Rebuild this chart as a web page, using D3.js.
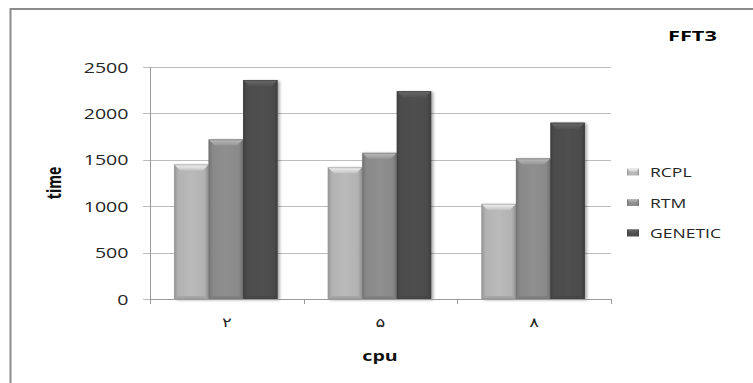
<!DOCTYPE html>
<html>
<head>
<meta charset="utf-8">
<script src="https://cdn.jsdelivr.net/npm/d3@7"></script>
<style>
html,body{margin:0;padding:0;background:#fff;}
svg{display:block;}
text{font-family:"Open Sans","DejaVu Sans",sans-serif;}
</style>
</head>
<body>
<svg id="chart" width="753" height="383"></svg>
<script>
const categories = ["۲", "۵", "۸"];
const seriesNames = ["RCPL", "RTM", "GENETIC"];
const rcpl = [1450, 1420, 1025];
const rtm = [1720, 1575, 1515];
const genetic = [2360, 2240, 1900];
const yTicks = [0, 500, 1000, 1500, 2000, 2500];
const title = "FFT3";
const xTitle = "cpu";
const yTitle = "time";

const seriesValues = [rcpl, rtm, genetic];
const colors = {RCPL: "#b2b2b2", RTM: "#898989", GENETIC: "#4c4c4c"};
const S = 1.4; // horizontal stretch of the reference text

const svg = d3.select("#chart");
const W = 753, H = 383;
const plot = {left: 150, right: 611, top: 67, bottom: 299};

// border
svg.append("rect").attr("x", 10.5).attr("y", 9).attr("width", W + 20).attr("height", H + 20)
  .attr("fill", "#fff").attr("stroke", "#8c8c8c").attr("stroke-width", 2);

const x0 = d3.scaleBand().domain(categories).range([plot.left, plot.right]).paddingInner(0).paddingOuter(0);
const x1 = d3.scaleBand().domain(seriesNames).range([x0.bandwidth() * 0.157, x0.bandwidth() * 0.83]);
const y = d3.scaleLinear().domain([0, 2500]).range([plot.bottom, plot.top]);

// gradients
const defs = svg.append("defs");
seriesNames.forEach(s => {
  const c = d3.color(colors[s]);
  const g = defs.append("linearGradient").attr("id", "g_" + s).attr("x1", "0").attr("x2", "1").attr("y1", "0").attr("y2", "0");
  g.append("stop").attr("offset", "0").attr("stop-color", c.darker(0.5));
  g.append("stop").attr("offset", "0.12").attr("stop-color", c);
  g.append("stop").attr("offset", "0.5").attr("stop-color", c.brighter(0.12));
  g.append("stop").attr("offset", "0.88").attr("stop-color", c);
  g.append("stop").attr("offset", "1").attr("stop-color", c.darker(0.6));
  const t = defs.append("linearGradient").attr("id", "t_" + s).attr("x1", "0").attr("x2", "0").attr("y1", "0").attr("y2", "1");
  t.append("stop").attr("offset", "0").attr("stop-color", c.brighter(0.9));
  t.append("stop").attr("offset", "1").attr("stop-color", c.brighter(0.25));
});
const sh = defs.append("filter").attr("id", "shadow").attr("x", "-20%").attr("y", "-5%").attr("width", "150%").attr("height", "115%");
sh.append("feGaussianBlur").attr("in", "SourceAlpha").attr("stdDeviation", 1.5).attr("result", "b");
sh.append("feOffset").attr("in", "b").attr("dx", 2).attr("dy", 1).attr("result", "o");
sh.append("feComponentTransfer").attr("in", "o").attr("result", "o2").append("feFuncA").attr("type", "linear").attr("slope", 0.35);
const mg = sh.append("feMerge"); mg.append("feMergeNode").attr("in", "o2"); mg.append("feMergeNode").attr("in", "SourceGraphic");

// gridlines + y labels
const yAxis = svg.append("g").attr("transform", `translate(${plot.left - 7},0)`)
  .call(d3.axisLeft(y).tickValues(yTicks).tickFormat(d3.format("d"))
    .tickSize(-(plot.right - plot.left + 7)).tickPadding(14.5));
yAxis.select(".domain").remove();
yAxis.selectAll(".tick line").attr("stroke", "#bdbdbd").attr("shape-rendering", "crispEdges");
yAxis.selectAll(".tick text").attr("x", -14.5 / S).attr("transform", `scale(${S},1)`)
  .attr("font-size", 14).attr("fill", "#262626").attr("dy", "0.36em");

// bars
const data = [];
categories.forEach((c, i) => seriesNames.forEach((s, j) => data.push({c, s, v: seriesValues[j][i]})));
const bars = svg.append("g").selectAll("g").data(data).join("g")
  .attr("transform", d => `translate(${x0(d.c) + x1(d.s)},0)`).attr("filter", "url(#shadow)");
const bw = x1.bandwidth();
bars.append("rect").attr("x", 0).attr("y", d => y(d.v)).attr("width", bw).attr("height", d => y(0) - y(d.v))
  .attr("fill", d => `url(#g_${d.s})`);
bars.append("path").attr("d", d => {
  const t = y(d.v);
  return `M0,${t}L${bw},${t}L${bw - 6},${t + 6}L6,${t + 6}Z`;
}).attr("fill", d => `url(#t_${d.s})`);
bars.append("path").attr("d", d => {
  const b = y(0);
  return `M0,${b}L${bw},${b}L${bw - 3},${b - 3}L3,${b - 3}Z`;
}).attr("fill", d => d3.color(colors[d.s]).darker(0.2));
bars.append("rect").attr("x", 0.5).attr("y", d => y(d.v) + 0.5).attr("width", bw - 1).attr("height", d => y(0) - y(d.v) - 1)
  .attr("fill", "none").attr("stroke", d => d3.color(colors[d.s]).darker(0.5)).attr("stroke-width", 1).attr("opacity", 0.6);

// axis lines
svg.append("line").attr("x1", plot.left + 0.5).attr("x2", plot.left + 0.5).attr("y1", plot.top).attr("y2", plot.bottom)
  .attr("stroke", "#9a9a9a");
svg.append("line").attr("x1", plot.left).attr("x2", plot.right).attr("y1", plot.bottom + 0.5).attr("y2", plot.bottom + 0.5)
  .attr("stroke", "#9a9a9a");
const bounds = categories.map(c => x0(c)).concat([x0.range()[1]]);
svg.append("g").selectAll("line").data(bounds).join("line")
  .attr("x1", d => Math.round(d) + 0.5).attr("x2", d => Math.round(d) + 0.5)
  .attr("y1", plot.bottom).attr("y2", plot.bottom + 5).attr("stroke", "#9a9a9a");

// x labels
const xAxis = svg.append("g").attr("transform", `translate(0,${plot.bottom})`)
  .call(d3.axisBottom(x0).tickSize(0).tickPadding(19));
xAxis.select(".domain").remove();
xAxis.selectAll(".tick text").attr("font-family", "DejaVu Sans, sans-serif").attr("font-size", 13)
  .attr("fill", "#222").attr("transform", `scale(${S},1)`);

// titles
svg.append("text").attr("transform", `translate(668,41) scale(1.45,1)`).attr("font-size", 15)
  .attr("font-weight", "bold").attr("fill", "#000").text(title);
svg.append("text").attr("transform", `translate(380,361) scale(${S},1)`).attr("text-anchor", "middle")
  .attr("font-size", 14).attr("font-weight", "bold").attr("fill", "#111").text(xTitle);
svg.append("text").attr("transform", `translate(60.5,183) scale(${S},1) rotate(-90)`).attr("text-anchor", "middle")
  .attr("font-size", 14).attr("font-weight", "bold").attr("fill", "#111").text(yTitle);

// legend
const rowY = d3.scalePoint().domain(seriesNames).range([172, 233]);
const leg = svg.append("g").selectAll("g").data(seriesNames).join("g")
  .attr("transform", d => `translate(627,${rowY(d)})`);
leg.append("rect").attr("x", 0).attr("y", -3.5).attr("width", 12).attr("height", 7).attr("fill", d => `url(#g_${d})`);
leg.append("path").attr("d", "M0,-3.5L12,-3.5L9,0L3,0Z").attr("fill", d => `url(#t_${d})`);
leg.append("text").attr("transform", `translate(23,5) scale(1.3,1)`).attr("font-size", 13.5)
  .attr("fill", "#262626").text(d => d);
</script>
</body>
</html>
